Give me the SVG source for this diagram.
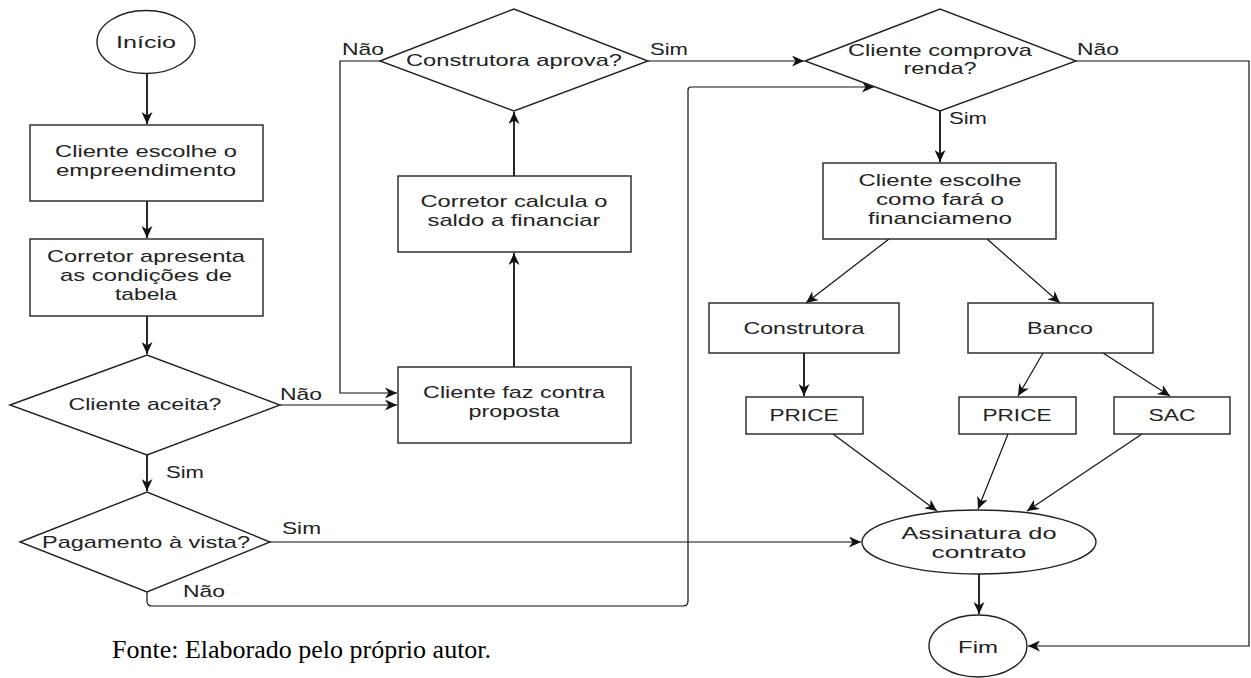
<svg xmlns="http://www.w3.org/2000/svg" width="1251" height="678" viewBox="0 0 1251 678">
<style>
.s{fill:#fff;stroke:#222;stroke-width:1.4}
.t{font-family:"Liberation Sans",Arial,sans-serif;font-size:17px;fill:#222;text-anchor:middle}
.l{font-family:"Liberation Sans",Arial,sans-serif;font-size:17px;fill:#222}
.c{fill:none;stroke:#111;stroke-width:1.8}
.d{fill:none;stroke:#111;stroke-width:1.2}
.f{font-family:"Liberation Serif","Times New Roman",serif;font-size:26px;fill:#000}
</style>
<defs>
<marker id="a" markerUnits="userSpaceOnUse" markerWidth="12" markerHeight="11" viewBox="0 0 12 11" refX="12" refY="5.5" orient="auto"><path d="M0,0 L12,5.5 L0,11 L3.5,5.5 z" fill="#111"/></marker>
</defs>
<g id="connectors">
<path class="c" d="M147,73 V124" marker-end="url(#a)"/>
<path class="c" d="M147,201 V238" marker-end="url(#a)"/>
<path class="c" d="M147,316 V354" marker-end="url(#a)"/>
<path class="d" d="M280,405 H397" marker-end="url(#a)"/>
<path class="c" d="M147,455 V491" marker-end="url(#a)"/>
<path class="d" d="M270,542 H861" marker-end="url(#a)"/>
<path class="d" d="M147,592 V601 Q147,606 152,606 H683 Q688,606 688,601 V90 Q688,87 691,87 H874" marker-end="url(#a)"/>
<path class="c" d="M514,367 V253" marker-end="url(#a)"/>
<path class="c" d="M514,176 V112" marker-end="url(#a)"/>
<path class="d" d="M380,61 H340 V393 H397" marker-end="url(#a)"/>
<path class="d" d="M648,61 H804" marker-end="url(#a)"/>
<path class="c" d="M940,111 V162" marker-end="url(#a)"/>
<path class="d" d="M1076,61 H1249 V646 H1028" marker-end="url(#a)"/>
<path class="d" d="M889,239 L806,303" marker-end="url(#a)"/>
<path class="d" d="M987,239 L1060,303" marker-end="url(#a)"/>
<path class="c" d="M804,353 V396" marker-end="url(#a)"/>
<path class="d" d="M1043,353 L1018,396" marker-end="url(#a)"/>
<path class="d" d="M1103,353 L1170,396" marker-end="url(#a)"/>
<path class="d" d="M833,434 L937,511" marker-end="url(#a)"/>
<path class="d" d="M1008,434 L978,509" marker-end="url(#a)"/>
<path class="d" d="M1142,434 L1027,511" marker-end="url(#a)"/>
<path class="c" d="M979,574 V614" marker-end="url(#a)"/>
</g>
<g id="inicio"><ellipse class="s" cx="146" cy="42" rx="49" ry="31.5"/><text class="t" x="146" y="48" textLength="60" lengthAdjust="spacingAndGlyphs">Início</text></g>
<g id="escolhe-emp"><rect class="s" x="30" y="125" width="233" height="76"/><text class="t" x="146" y="157" textLength="182" lengthAdjust="spacingAndGlyphs">Cliente escolhe o</text><text class="t" x="146" y="176" textLength="180" lengthAdjust="spacingAndGlyphs">empreendimento</text></g>
<g id="apresenta"><rect class="s" x="30" y="239" width="233" height="77"/><text class="t" x="146" y="262" textLength="198" lengthAdjust="spacingAndGlyphs">Corretor apresenta</text><text class="t" x="146" y="281" textLength="172" lengthAdjust="spacingAndGlyphs">as condições de</text><text class="t" x="146" y="300" textLength="62" lengthAdjust="spacingAndGlyphs">tabela</text></g>
<g id="aceita"><polygon class="s" points="10,405 147,355 280,405 147,455"/><text class="t" x="145" y="410" textLength="153" lengthAdjust="spacingAndGlyphs">Cliente aceita?</text></g>
<g id="pagamento"><polygon class="s" points="20,542 147,492 270,542 147,592"/><text class="t" x="146" y="548" textLength="208" lengthAdjust="spacingAndGlyphs">Pagamento à vista?</text></g>
<g id="aprova"><polygon class="s" points="380,61 514,9 648,61 514,111"/><text class="t" x="514" y="66" textLength="216" lengthAdjust="spacingAndGlyphs">Construtora aprova?</text></g>
<g id="calcula"><rect class="s" x="398" y="176" width="233" height="76"/><text class="t" x="514" y="207" textLength="187" lengthAdjust="spacingAndGlyphs">Corretor calcula o</text><text class="t" x="514" y="226" textLength="173" lengthAdjust="spacingAndGlyphs">saldo a financiar</text></g>
<g id="contra"><rect class="s" x="398" y="367" width="233" height="76"/><text class="t" x="514" y="398" textLength="182" lengthAdjust="spacingAndGlyphs">Cliente faz contra</text><text class="t" x="514" y="417" textLength="91" lengthAdjust="spacingAndGlyphs">proposta</text></g>
<g id="comprova"><polygon class="s" points="805,61 940,9 1076,61 940,111"/><text class="t" x="940" y="56" textLength="184" lengthAdjust="spacingAndGlyphs">Cliente comprova</text><text class="t" x="940" y="74" textLength="73" lengthAdjust="spacingAndGlyphs">renda?</text></g>
<g id="financiamento"><rect class="s" x="823" y="163" width="233" height="76"/><text class="t" x="940" y="186" textLength="163" lengthAdjust="spacingAndGlyphs">Cliente escolhe</text><text class="t" x="940" y="205" textLength="128" lengthAdjust="spacingAndGlyphs">como fará o</text><text class="t" x="940" y="224" textLength="144" lengthAdjust="spacingAndGlyphs">financiameno</text></g>
<g id="construtora"><rect class="s" x="709" y="303" width="190" height="50"/><text class="t" x="804" y="334" textLength="121" lengthAdjust="spacingAndGlyphs">Construtora</text></g>
<g id="banco"><rect class="s" x="968" y="303" width="185" height="50"/><text class="t" x="1060" y="334" textLength="66" lengthAdjust="spacingAndGlyphs">Banco</text></g>
<g id="price1"><rect class="s" x="746" y="397" width="117" height="37"/><text class="t" x="804" y="421" textLength="69" lengthAdjust="spacingAndGlyphs">PRICE</text></g>
<g id="price2"><rect class="s" x="959" y="397" width="117" height="37"/><text class="t" x="1017" y="421" textLength="69" lengthAdjust="spacingAndGlyphs">PRICE</text></g>
<g id="sac"><rect class="s" x="1114" y="397" width="116" height="37"/><text class="t" x="1172" y="421" textLength="47" lengthAdjust="spacingAndGlyphs">SAC</text></g>
<g id="assinatura"><ellipse class="s" cx="979" cy="542" rx="117" ry="32"/><text class="t" x="979" y="539" textLength="155" lengthAdjust="spacingAndGlyphs">Assinatura do</text><text class="t" x="979" y="558" textLength="95" lengthAdjust="spacingAndGlyphs">contrato</text></g>
<g id="fim"><ellipse class="s" cx="978" cy="646" rx="49" ry="31"/><text class="t" x="978" y="653" textLength="40" lengthAdjust="spacingAndGlyphs">Fim</text></g>
<g id="labels">
<text class="l" x="280" y="400" textLength="42" lengthAdjust="spacingAndGlyphs">Não</text>
<text class="l" x="166" y="478" textLength="38" lengthAdjust="spacingAndGlyphs">Sim</text>
<text class="l" x="282" y="534" textLength="39" lengthAdjust="spacingAndGlyphs">Sim</text>
<text class="l" x="183" y="597" textLength="42" lengthAdjust="spacingAndGlyphs">Não</text>
<text class="l" x="342" y="55" textLength="42" lengthAdjust="spacingAndGlyphs">Não</text>
<text class="l" x="650" y="55" textLength="38" lengthAdjust="spacingAndGlyphs">Sim</text>
<text class="l" x="949" y="124" textLength="38" lengthAdjust="spacingAndGlyphs">Sim</text>
<text class="l" x="1077" y="55" textLength="42" lengthAdjust="spacingAndGlyphs">Não</text>
</g>
<text class="f" x="112" y="658">Fonte: Elaborado pelo próprio autor.</text>
</svg>
